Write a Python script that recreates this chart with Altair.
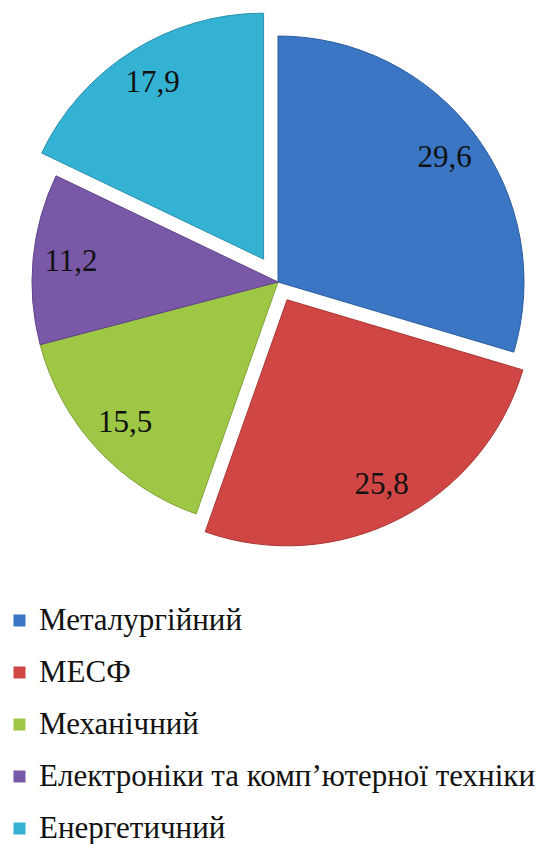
import altair as alt
import pandas as pd

categories = ["Металургійний", "МЕСФ", "Механічний",
              "Електроніки та комп’ютерної техніки", "Енергетичний"]
values = [29.6, 25.8, 15.5, 11.2, 17.9]
labels = ["29,6", "25,8", "15,5", "11,2", "17,9"]

# styles
colors = ["#3A76C4", "#D04644", "#9DC745", "#7A58A8", "#34B2D4"]
edges = ["#2C5C9E", "#A83634", "#7FA236", "#5F4488", "#2A8FAD"]
explode_px = {"МЕСФ": 20, "Енергетичний": 27}
SERIF = "Times New Roman"

df = pd.DataFrame({
    "cat": categories,
    "value": values,
    "label": labels,
    "idx": list(range(len(categories))),
    "explode": [explode_px.get(c, 0) for c in categories],
})

CX, CY, R, LR = 270, 274, 246, 208
theta_scale = alt.Scale(domain=[0, 100], range=[0, 6.283185307179586])

base = (
    alt.Chart(df)
    .transform_window(cum="sum(value)", sort=[alt.SortField("idx")], frame=[None, 0])
    .transform_calculate(start="datum.cum - datum.value",
                         mid="datum.cum - datum.value / 2")
    .transform_calculate(
        cx=f"{CX} + datum.explode * sin(datum.mid / 100 * 2 * PI)",
        cy=f"{CY} - datum.explode * cos(datum.mid / 100 * 2 * PI)",
    )
)

legend = alt.Legend(
    title=None, orient="none", legendX=-4, legendY=597, direction="vertical",
    symbolType="square", symbolSize=144, symbolStrokeWidth=0,
    rowPadding=20, labelOffset=4,
    labelFont=SERIF, labelFontSize=31, labelColor="#111111", labelLimit=0,
)

arcs = base.mark_arc(radius=R, strokeWidth=1).encode(
    theta=alt.Theta("start:Q", scale=theta_scale, stack=None),
    theta2="cum:Q",
    x=alt.X("cx:Q", scale=None),
    y=alt.Y("cy:Q", scale=None),
    color=alt.Color("cat:N", scale=alt.Scale(domain=categories, range=colors),
                    legend=legend),
    stroke=alt.Stroke("cat:N", scale=alt.Scale(domain=categories, range=edges),
                      legend=None),
)

text = base.mark_text(radius=LR, font=SERIF, fontSize=31,
                      color="#111111").encode(
    theta=alt.Theta("mid:Q", scale=theta_scale, stack=None),
    x=alt.X("cx:Q", scale=None),
    y=alt.Y("cy:Q", scale=None),
    text="label:N",
)

chart = alt.layer(arcs, text).properties(
    width=531, height=836, padding=0,
    autosize=alt.AutoSizeParams(type="none"),
    view=alt.ViewBackground(stroke=None),
)

chart.save("out.html", embed_options={"renderer": "svg", "actions": False})
